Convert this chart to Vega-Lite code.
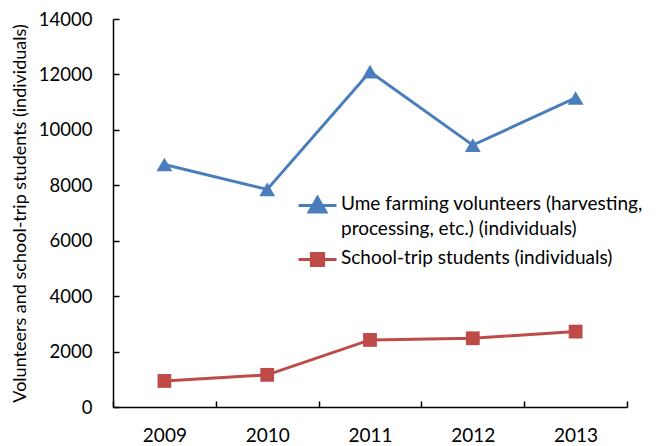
{
  "$schema": "https://vega.github.io/schema/vega-lite/v6.json",
  "width": 514,
  "height": 388,
  "autosize": "none",
  "padding": {"left": 113, "top": 19, "right": 30, "bottom": 39},
  "background": "white",
  "config": {"view": {"stroke": null}, "font": "Lato"},
  "data": {
    "values": [
      {"year": "2009", "series": "Ume farming volunteers (harvesting, processing, etc.) (individuals)", "value": 8750},
      {"year": "2010", "series": "Ume farming volunteers (harvesting, processing, etc.) (individuals)", "value": 7850},
      {"year": "2011", "series": "Ume farming volunteers (harvesting, processing, etc.) (individuals)", "value": 12100},
      {"year": "2012", "series": "Ume farming volunteers (harvesting, processing, etc.) (individuals)", "value": 9450},
      {"year": "2013", "series": "Ume farming volunteers (harvesting, processing, etc.) (individuals)", "value": 11150},
      {"year": "2009", "series": "School-trip students (individuals)", "value": 940},
      {"year": "2010", "series": "School-trip students (individuals)", "value": 1160},
      {"year": "2011", "series": "School-trip students (individuals)", "value": 2420},
      {"year": "2012", "series": "School-trip students (individuals)", "value": 2480},
      {"year": "2013", "series": "School-trip students (individuals)", "value": 2720}
    ]
  },
  "encoding": {
    "x": {
      "field": "year",
      "type": "ordinal",
      "scale": {"type": "band", "paddingInner": 0, "paddingOuter": 0},
      "axis": {
        "title": null,
        "labelAngle": 0,
        "labelFontSize": 19,
        "labelColor": "#000000",
        "labelPadding": 25,
        "tickBand": "extent",
        "tickSize": -6,
        "tickColor": "#000000",
        "tickWidth": 1.5,
        "domainColor": "#000000",
        "domainWidth": 1.5,
        "grid": false
      }
    },
    "y": {
      "field": "value",
      "type": "quantitative",
      "scale": {"domain": [0, 14000], "nice": false},
      "axis": {
        "title": "Volunteers and school-trip students (individuals)",
        "titleFontSize": 18,
        "titleFontWeight": "normal",
        "titleColor": "#000000",
        "titlePadding": 9,
        "values": [0, 2000, 4000, 6000, 8000, 10000, 12000, 14000],
        "format": "d",
        "labelFontSize": 18.5,
        "labelColor": "#000000",
        "labelPadding": 27,
        "tickSize": -6,
        "tickColor": "#000000",
        "tickWidth": 1.5,
        "domainColor": "#000000",
        "domainWidth": 1.5,
        "grid": false
      }
    },
    "color": {
      "field": "series",
      "type": "nominal",
      "scale": {
        "domain": ["Ume farming volunteers (harvesting, processing, etc.) (individuals)", "School-trip students (individuals)"],
        "range": ["#4A7EBB", "#BE4B48"]
      },
      "legend": {
        "title": null,
        "orient": "none",
        "legendX": 184,
        "legendY": 166,
        "padding": 0,
        "labelFontSize": 19,
        "labelColor": "#000000",
        "labelLimit": 500,
        "labelOffset": 3,
        "labelBaseline": "top",
        "rowPadding": 0,
        "symbolSize": 1444,
        "labelExpr": "datum.label == 'Ume farming volunteers (harvesting, processing, etc.) (individuals)' ? ['Ume farming volunteers (harvesting,', 'processing, etc.) (individuals)'] : datum.label",
        "encode": {
          "symbols": {
            "update": {
              "shape": {"signal": "datum.value == 'School-trip students (individuals)' ? 'M-1,0H1M-0.32,-0.32H0.32V0.32H-0.32Z' : 'M-1,0H1M0,-0.42L0.44,0.34H-0.44Z'"},
              "fill": {"scale": "color", "field": "value"},
              "stroke": {"scale": "color", "field": "value"},
              "strokeWidth": {"value": 3},
              "size": {"value": 1444},
              "opacity": {"value": 1}
            }
          },
          "labels": {"update": {"dy": {"value": -11}, "lineHeight": {"value": 25}}}
        }
      }
    }
  },
  "layer": [
    {"mark": {"type": "line", "strokeWidth": 3}},
    {
      "transform": [{"filter": "datum.series == 'Ume farming volunteers (harvesting, processing, etc.) (individuals)'"}],
      "mark": {"type": "point", "filled": true, "opacity": 1, "size": 250, "shape": "triangle-up"}
    },
    {
      "transform": [{"filter": "datum.series == 'School-trip students (individuals)'"}],
      "mark": {"type": "point", "filled": true, "opacity": 1, "size": 190, "shape": "square"}
    }
  ]
}
